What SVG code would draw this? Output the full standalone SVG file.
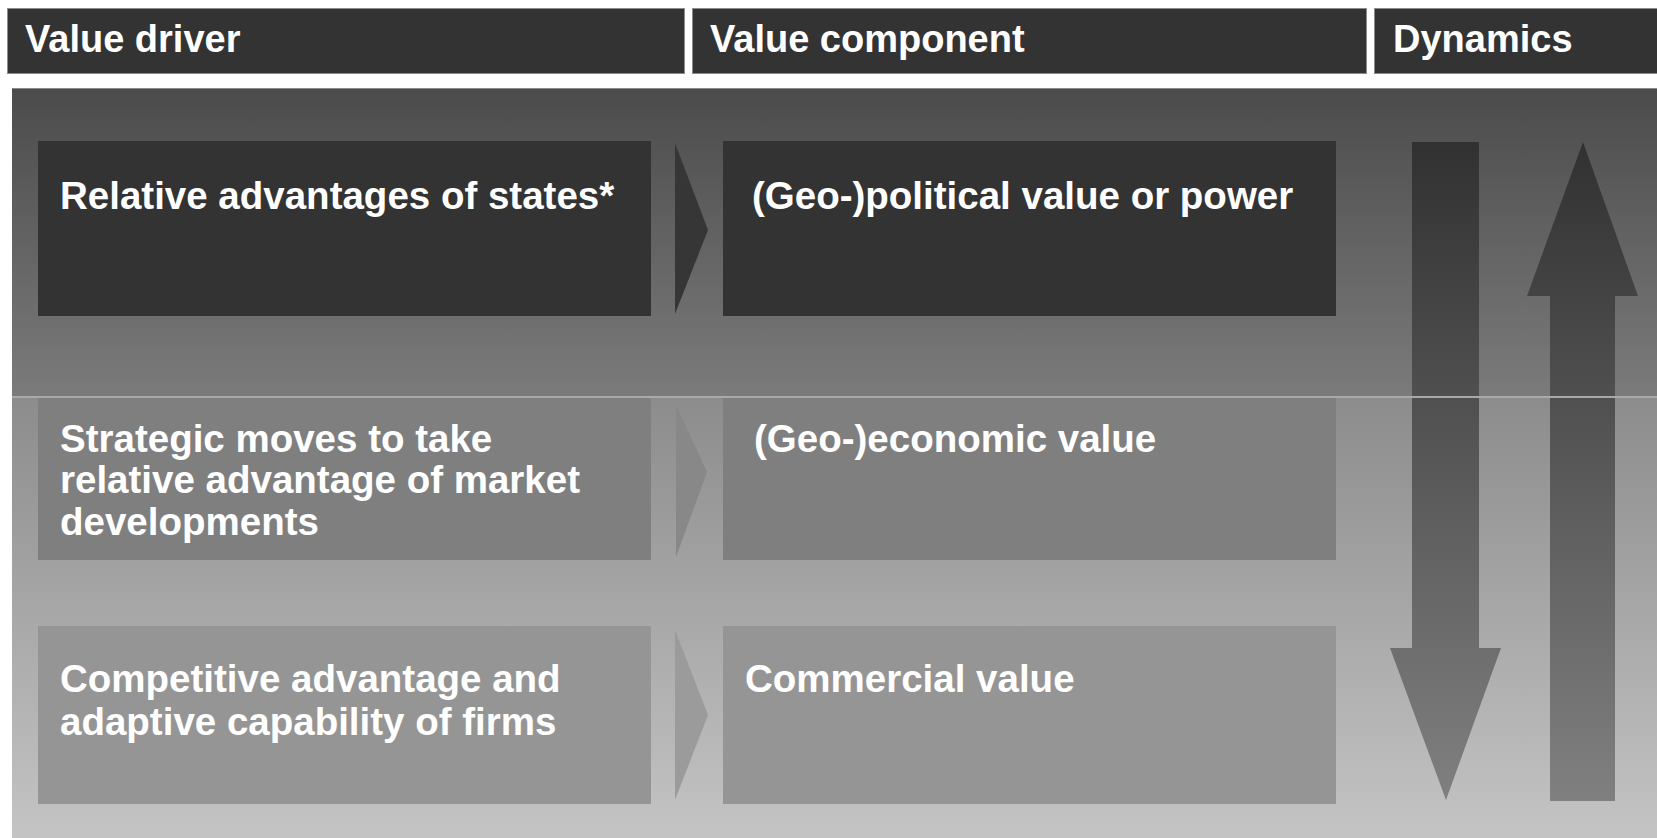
<svg xmlns="http://www.w3.org/2000/svg" width="1657" height="838" viewBox="0 0 1657 838">
  <style>
    .hdr { fill: #333333; stroke: #8c8c8c; stroke-width: 1; }
    .t { font-family: "Liberation Sans", Arial, sans-serif; font-weight: bold; fill: #ffffff; }
    .th { font-size: 38px; }
    .tb { font-size: 38.5px; }
    .r1 { fill: #333333; }
    .r2 { fill: #7f7f7f; }
    .r3 { fill: #959595; }
  </style>
  <defs>
    <linearGradient id="bgTop" x1="0" y1="88" x2="0" y2="397" gradientUnits="userSpaceOnUse">
      <stop offset="0" stop-color="#4b4b4b"/>
      <stop offset="1" stop-color="#7b7b7b"/>
    </linearGradient>
    <linearGradient id="bgBottom" x1="0" y1="397" x2="0" y2="838" gradientUnits="userSpaceOnUse">
      <stop offset="0" stop-color="#8c8c8c"/>
      <stop offset="1" stop-color="#c4c4c4"/>
    </linearGradient>
    <linearGradient id="arrowFill" x1="0" y1="142" x2="0" y2="801" gradientUnits="userSpaceOnUse">
      <stop offset="0" stop-color="#313131"/>
      <stop offset="1" stop-color="#808080"/>
    </linearGradient>
  </defs>

  <rect x="0" y="0" width="1657" height="838" fill="#ffffff"/>

  <!-- column headers -->
  <g id="header-driver">
    <rect class="hdr" x="7.5" y="8.5" width="677" height="65"/>
    <text class="t th" x="25" y="52">Value driver</text>
  </g>
  <g id="header-component">
    <rect class="hdr" x="692.5" y="8.5" width="674" height="65"/>
    <text class="t th" x="710" y="52">Value component</text>
  </g>
  <g id="header-dynamics">
    <rect class="hdr" x="1374.5" y="8.5" width="290" height="65"/>
    <text class="t th" x="1393" y="52">Dynamics</text>
  </g>

  <!-- panel background -->
  <g id="panel">
    <rect x="12" y="88" width="1645" height="309" fill="url(#bgTop)"/>
    <rect x="12" y="397" width="1645" height="441" fill="url(#bgBottom)"/>
    <line x1="12" y1="88.5" x2="1657" y2="88.5" stroke="#8a8a8a" stroke-width="1"/>
  </g>

  <!-- dynamics arrows -->
  <g id="arrow-down">
    <polygon points="1412,142 1479,142 1479,648 1501,648 1446,800 1390,648 1412,648" fill="url(#arrowFill)"/>
  </g>
  <g id="arrow-up">
    <polygon points="1583,142 1638,296 1615,296 1615,801 1550,801 1550,296 1527,296" fill="url(#arrowFill)"/>
  </g>

  <!-- row divider -->
  <line x1="12" y1="397" x2="1657" y2="397" stroke="#a9a9a9" stroke-width="2"/>

  <!-- row 1 -->
  <g id="driver-states">
    <rect class="r1" x="38" y="141" width="613" height="175"/>
    <text class="t tb" x="60" y="209">Relative advantages of states*</text>
  </g>
  <g id="component-political">
    <rect class="r1" x="723" y="141" width="613" height="175"/>
    <text class="t tb" x="752" y="209">(Geo-)political value or power</text>
  </g>

  <!-- row 2 -->
  <g id="driver-strategic">
    <rect class="r2" x="38" y="398" width="613" height="162"/>
    <text class="t tb" x="60" y="452">Strategic moves to take</text>
    <text class="t tb" x="60" y="493">relative advantage of market</text>
    <text class="t tb" x="60" y="535">developments</text>
  </g>
  <g id="component-economic">
    <rect class="r2" x="723" y="398" width="613" height="162"/>
    <text class="t tb" x="754" y="452">(Geo-)economic value</text>
  </g>

  <!-- row 3 -->
  <g id="driver-firms">
    <rect class="r3" x="38" y="626" width="613" height="178"/>
    <text class="t tb" x="60" y="692">Competitive advantage and</text>
    <text class="t tb" x="60" y="735">adaptive capability of firms</text>
  </g>
  <g id="component-commercial">
    <rect class="r3" x="723" y="626" width="613" height="178"/>
    <text class="t tb" x="745" y="692">Commercial value</text>
  </g>

  <!-- connectors: chevrons between driver and component -->
  <g id="connectors">
    <polygon points="675,143 708,230 675,314" fill="#363636"/>
    <polygon points="676,405 707,472 676,557" fill="#888888"/>
    <polygon points="675,630 708,715 675,800" fill="#9b9b9b"/>
  </g>
</svg>
